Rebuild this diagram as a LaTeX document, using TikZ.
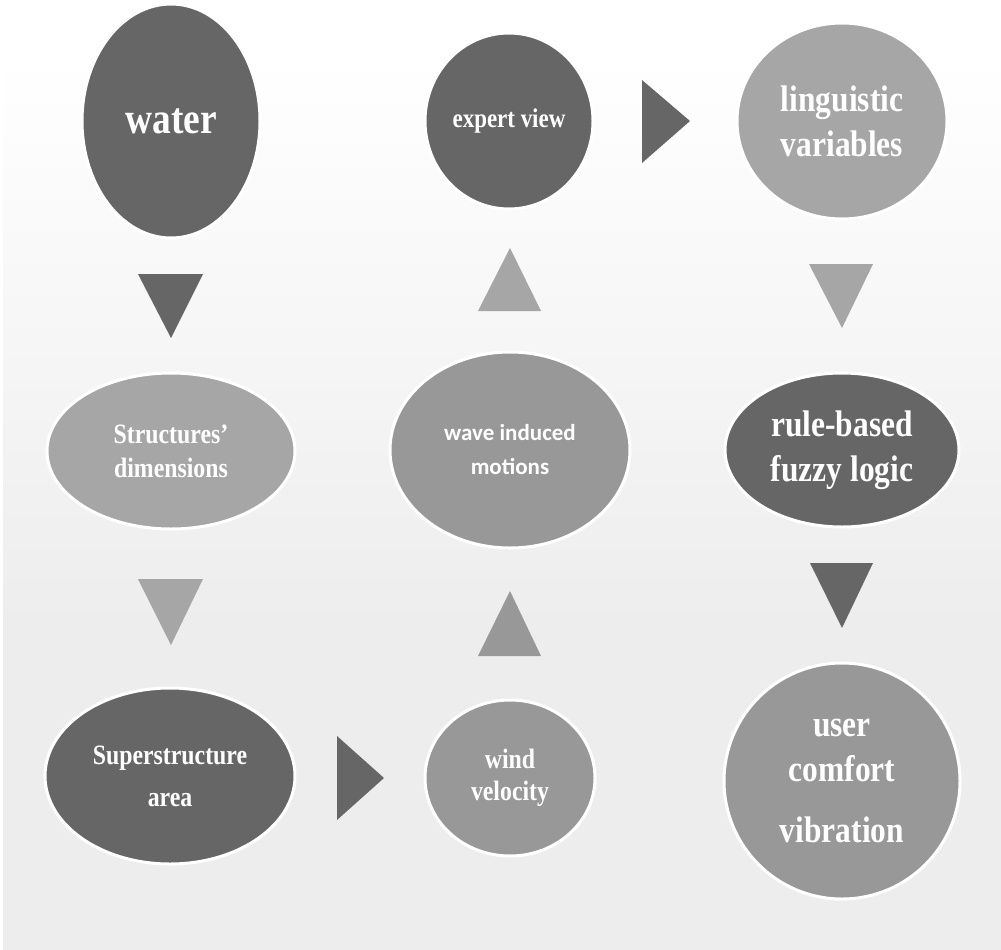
\documentclass[tikz,border=0pt]{standalone}
\usepackage{fontspec}
\usetikzlibrary{shapes.geometric}
\newfontfamily\lblserif[FakeStretch=0.85]{Liberation Serif}
\newfontfamily\lblsans{Carlito}
\definecolor{dk}{HTML}{666666}
\definecolor{lt}{HTML}{A6A6A6}
\definecolor{md}{HTML}{989898}
\definecolor{bgbot}{HTML}{EDEDED}
% page background: white at the top fading to light grey lower down
\pgfdeclareverticalshading{bgfade}{100bp}{color(0bp)=(bgbot); color(25bp)=(bgbot); color(42bp)=(bgbot); color(72bp)=(white); color(100bp)=(white)}
\tikzset{
  bubble/.style={ellipse, draw=white, line width=3pt, inner sep=0pt, text=white, align=center},
  big/.style={font=\lblserif\bfseries\fontsize{37}{45}\selectfont},
  small/.style={font=\lblserif\bfseries\fontsize{28}{34}\selectfont},
  smallsans/.style={font=\lblsans\bfseries\fontsize{23}{34}\selectfont},
}
\begin{document}
\begin{tikzpicture}[x=1pt, y=-1pt]
  \fill[white] (0,0) rectangle (1001,950);
  \useasboundingbox (0,0) rectangle (1001,950);
  \shade[shading=bgfade] (3,0) rectangle (1001,950);

  % left column
  \node[bubble, fill=dk, minimum width=178pt, minimum height=234pt,
        font=\lblserif\bfseries\fontsize{44}{50}\selectfont] (water) at (171,121) {\raisebox{-4pt}{water}};
  \node[bubble, small, fill=lt, minimum width=248pt, minimum height=156pt] (dims) at (171,451) {Structures’\\dimensions};
  \node[bubble, small, fill=dk, minimum width=250pt, minimum height=176pt, font=\lblserif\bfseries\fontsize{28}{46}\selectfont] (area) at (170,776) {\raisebox{-4pt}{Superstructure}\\area};

  % middle column
  \node[bubble, fill=dk, minimum width=168pt, minimum height=176pt,
        font=\lblserif\bfseries\fontsize{27}{32}\selectfont] (expert) at (509,121) {\raisebox{-2pt}{expert view}};
  \node[bubble, smallsans, fill=md, minimum width=240pt, minimum height=196pt] (wave) at (510,450) {wave induced\\motions};
  \node[bubble, fill=md, minimum width=170pt, minimum height=156pt,
        font=\lblserif\bfseries\fontsize{28}{32}\selectfont] (wind) at (510,778) {wind\\velocity};

  % right column
  \node[bubble, big, fill=lt, minimum width=210pt, minimum height=196pt] (ling) at (842,121) {linguistic\\variables};
  \node[bubble, big, fill=dk, minimum width=234pt, minimum height=154pt] (fuzzy) at (842,450) {rule-based\\fuzzy logic};
  \node[bubble, big, fill=md, minimum width=236pt, minimum height=236pt] (comfort) at (842,781) {user\\comfort\\[16pt]vibration};

  % flow markers between the bubbles
  \fill[dk] (138,274) -- (203,274) -- (171,338) -- cycle;
  \fill[lt] (138,579) -- (203,579) -- (171,645) -- cycle;
  \fill[dk] (337,736) -- (337,820) -- (384,778) -- cycle;
  \fill[md] (478,656) -- (541,656) -- (510,591) -- cycle;
  \fill[lt] (478,311) -- (541,311) -- (510,248) -- cycle;
  \fill[dk] (642,80) -- (642,163) -- (690,121) -- cycle;
  \fill[lt] (809,264) -- (873,264) -- (842,328) -- cycle;
  \fill[dk] (810,563) -- (873,563) -- (842,628) -- cycle;
\end{tikzpicture}
\end{document}
